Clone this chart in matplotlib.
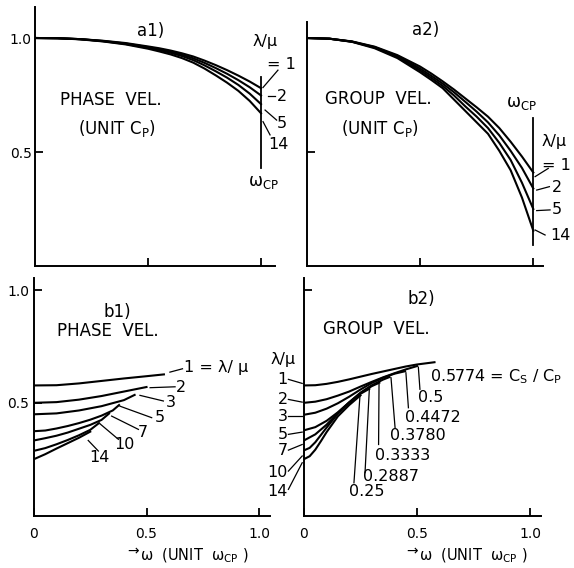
import matplotlib
matplotlib.use("Agg")
import matplotlib.pyplot as plt

plt.rcParams['font.family'] = ['DejaVu Sans']
plt.rcParams['mathtext.fontset'] = 'dejavusans'

# ---------------- data ----------------
# a1) phase velocity (unit C_P) vs omega (unit omega_CP)
A_X = [0, 0.1, 0.2, 0.3, 0.4, 0.5, 0.55, 0.6, 0.65, 0.7, 0.75, 0.8, 0.85, 0.9, 0.95, 1.0]
A1_R1 = [1.0, 0.999, 0.995, 0.988, 0.978, 0.963, 0.955, 0.945, 0.933, 0.919, 0.901, 0.881, 0.859, 0.835, 0.809, 0.78]
A1_R2 = [1.0, 0.999, 0.995, 0.987, 0.976, 0.960, 0.951, 0.940, 0.927, 0.911, 0.891, 0.868, 0.843, 0.815, 0.784, 0.748]
A1_R5 = [1.0, 0.999, 0.995, 0.986, 0.974, 0.957, 0.947, 0.935, 0.921, 0.903, 0.880, 0.854, 0.826, 0.794, 0.756, 0.71]
A1_R14 = [1.0, 0.999, 0.994, 0.985, 0.972, 0.953, 0.941, 0.928, 0.912, 0.892, 0.866, 0.836, 0.804, 0.768, 0.724, 0.67]
# a2) group velocity
A2_R1 = [1.0, 0.997, 0.985, 0.962, 0.925, 0.875, 0.844, 0.810, 0.774, 0.735, 0.696, 0.655, 0.605, 0.545, 0.48, 0.41]
A2_R2 = [1.0, 0.997, 0.984, 0.960, 0.921, 0.866, 0.834, 0.800, 0.762, 0.720, 0.677, 0.630, 0.573, 0.505, 0.43, 0.34]
A2_R5 = [1.0, 0.997, 0.984, 0.958, 0.917, 0.858, 0.825, 0.790, 0.748, 0.700, 0.655, 0.605, 0.540, 0.465, 0.365, 0.25]
A2_R14 = [1.0, 0.997, 0.983, 0.955, 0.912, 0.850, 0.816, 0.780, 0.730, 0.680, 0.630, 0.580, 0.505, 0.42, 0.30, 0.155]
A_LABELS = ["1", "2", "5", "14"]

# b1) phase velocity for lambda/mu = 1,2,3,5,7,10,14
B_LAMBDA = ["1", "2", "3", "5", "7", "10", "14"]
B_CS = ["0.5774", "0.5", "0.4472", "0.3780", "0.3333", "0.2887", "0.25"]
B1_X1 = [0, 0.1, 0.2, 0.3, 0.4, 0.5, 0.5774]
B1_Y1 = [0.577, 0.578, 0.586, 0.597, 0.608, 0.618, 0.626]
B1_X2 = [0, 0.1, 0.2, 0.3, 0.4, 0.5]
B1_Y2 = [0.5, 0.503, 0.514, 0.53, 0.55, 0.57]
B1_X3 = [0, 0.1, 0.2, 0.3, 0.4, 0.4472]
B1_Y3 = [0.449, 0.453, 0.466, 0.485, 0.512, 0.535]
B1_X5 = [0, 0.05, 0.1, 0.15, 0.2, 0.25, 0.3, 0.35, 0.378]
B1_Y5 = [0.374, 0.377, 0.386, 0.397, 0.41, 0.425, 0.443, 0.466, 0.49]
B1_X7 = [0, 0.05, 0.1, 0.15, 0.2, 0.25, 0.3, 0.3333]
B1_Y7 = [0.333, 0.343, 0.354, 0.368, 0.385, 0.402, 0.424, 0.452]
B1_X10 = [0, 0.05, 0.1, 0.15, 0.2, 0.25, 0.2887]
B1_Y10 = [0.287, 0.299, 0.316, 0.335, 0.356, 0.38, 0.41]
B1_X14 = [0, 0.05, 0.1, 0.15, 0.2, 0.25]
B1_Y14 = [0.25, 0.272, 0.297, 0.321, 0.345, 0.372]

# b2) group velocity
B2_X1 = [0, 0.05, 0.1, 0.15, 0.2, 0.25, 0.3, 0.35, 0.4, 0.45, 0.5, 0.5774]
B2_Y1 = [0.577, 0.578, 0.584, 0.593, 0.604, 0.616, 0.628, 0.639, 0.65, 0.661, 0.670, 0.68]
B2_X2 = [0, 0.05, 0.1, 0.15, 0.2, 0.25, 0.3, 0.35, 0.4, 0.45, 0.5]
B2_Y2 = [0.5, 0.505, 0.516, 0.532, 0.55, 0.572, 0.593, 0.613, 0.631, 0.648, 0.663]
B2_X3 = [0, 0.05, 0.1, 0.15, 0.2, 0.25, 0.3, 0.35, 0.4, 0.4472]
B2_Y3 = [0.447, 0.456, 0.474, 0.498, 0.527, 0.559, 0.588, 0.611, 0.629, 0.640]
B2_X5 = [0, 0.05, 0.1, 0.15, 0.2, 0.25, 0.3, 0.35, 0.378]
B2_Y5 = [0.378, 0.392, 0.42, 0.458, 0.502, 0.545, 0.578, 0.603, 0.614]
B2_X7 = [0, 0.05, 0.1, 0.15, 0.2, 0.25, 0.3, 0.3333]
B2_Y7 = [0.333, 0.36, 0.403, 0.455, 0.502, 0.543, 0.574, 0.589]
B2_X10 = [0, 0.025, 0.05, 0.1, 0.15, 0.2, 0.25, 0.2887]
B2_Y10 = [0.289, 0.30, 0.325, 0.39, 0.452, 0.5, 0.54, 0.562]
B2_X14 = [0, 0.025, 0.05, 0.075, 0.1, 0.15, 0.2, 0.25]
B2_Y14 = [0.25, 0.263, 0.292, 0.33, 0.37, 0.44, 0.49, 0.533]

# ---------------- figure ----------------
W, H = 574, 568
fig = plt.figure(figsize=(W / 100, H / 100), dpi=100)

LW = 1.5
LL = 0.9
FS = 12
FSN = 11.5
FST = 10


def make_axes(left_px, bottom_px, xs, ys, xmax, ymax):
    ax = fig.add_axes([left_px / W, (H - bottom_px) / H, xmax * xs / W, ymax * ys / H])
    ax.set_xlim(0, xmax)
    ax.set_ylim(0, ymax)
    for s in ("top", "right"):
        ax.spines[s].set_visible(False)
    for s in ("left", "bottom"):
        ax.spines[s].set_linewidth(1.4)
    ax.tick_params(direction="in", length=6, width=1.3, labelsize=FST)
    ax.patch.set_alpha(0)
    return ax


def leader(ax, x0, y0, x1, y1):
    ax.plot([x0, x1], [y0, y1], color="black", lw=LL, clip_on=False)


def xlabel(ax, x_left):
    ax.text(x_left, -0.177, "ω  (UNIT  ω$_\\mathrm{CP}$ )", fontsize=10.5,
            ha="left", va="center")
    ax.text(x_left - 0.004, -0.158, "→", fontsize=10, ha="right", va="center")


# a1
ax = make_axes(35, 266, 226, 228, 1.06, 1.137)
for ys in (A1_R1, A1_R2, A1_R5, A1_R14):
    ax.plot(A_X, ys, color="black", lw=LW)
ax.plot([1.0, 1.0], [0.43, 0.83], color="black", lw=1.3)
ax.set_xticks([0.5, 1.0])
ax.set_xticklabels([])
ax.set_yticks([0.5, 1.0])
ax.set_yticklabels(["0.5", "1.0"])
ax.tick_params(axis="y", pad=2.5)
ax.text(0.51, 1.03, "a1)", fontsize=FS, ha="center", va="center")
ax.text(0.11, 0.728, "PHASE  VEL.", fontsize=FS, ha="left", va="center")
ax.text(0.19, 0.605, "(UNIT C$_\\mathrm{P}$)", fontsize=FS, ha="left", va="center")
ax.text(1.02, 0.985, "λ/μ", fontsize=FSN, ha="center", va="center")
ax.text(1.027, 0.882, "= " + A_LABELS[0], fontsize=FSN, ha="left", va="center")
leader(ax, 1.009, 0.783, 1.075, 0.859)
leader(ax, 1.032, 0.745, 1.062, 0.745)
ax.text(1.092, 0.742, A_LABELS[1], fontsize=FSN, ha="center", va="center")
leader(ax, 1.018, 0.684, 1.069, 0.64)
ax.text(1.093, 0.625, A_LABELS[2], fontsize=FSN, ha="center", va="center")
leader(ax, 1.009, 0.633, 1.04, 0.575)
ax.text(1.077, 0.531, A_LABELS[3], fontsize=FSN, ha="center", va="center")
ax.text(1.009, 0.368, "ω$_\\mathrm{CP}$", fontsize=FS, ha="center", va="center")

# a2
ax = make_axes(306.7, 266, 226.6, 228, 1.045, 1.137)
ax.spines["left"].set_bounds(0, 1.07)
for ys in (A2_R1, A2_R2, A2_R5, A2_R14):
    ax.plot(A_X, ys, color="black", lw=LW)
ax.plot([1.0, 1.0], [0.09, 0.65], color="black", lw=1.3)
ax.set_xticks([0.5, 1.0])
ax.set_xticklabels([])
ax.set_yticks([0.5])
ax.set_yticklabels([])
ax.text(0.525, 1.035, "a2)", fontsize=FS, ha="center", va="center")
ax.text(0.081, 0.731, "GROUP  VEL.", fontsize=FS, ha="left", va="center")
ax.text(0.153, 0.604, "(UNIT C$_\\mathrm{P}$)", fontsize=FS, ha="left", va="center")
ax.text(0.949, 0.714, "ω$_\\mathrm{CP}$", fontsize=FS, ha="center", va="center")
ax.text(1.09, 0.545, "λ/μ", fontsize=FSN, ha="center", va="center")
ax.text(1.037, 0.439, "= " + A_LABELS[0], fontsize=FSN, ha="left", va="center")
leader(ax, 1.008, 0.392, 1.066, 0.428)
leader(ax, 1.015, 0.333, 1.071, 0.348)
ax.text(1.103, 0.345, A_LABELS[1], fontsize=FSN, ha="center", va="center")
leader(ax, 1.015, 0.243, 1.074, 0.246)
ax.text(1.103, 0.246, A_LABELS[2], fontsize=FSN, ha="center", va="center")
leader(ax, 1.008, 0.158, 1.052, 0.136)
ax.text(1.075, 0.132, A_LABELS[3], fontsize=FSN, ha="left", va="center")

# b1
ax = make_axes(34, 515.5, 225, 225.4, 1.05, 1.055)
for xs, ys in ((B1_X1, B1_Y1), (B1_X2, B1_Y2), (B1_X3, B1_Y3), (B1_X5, B1_Y5),
               (B1_X7, B1_Y7), (B1_X10, B1_Y10), (B1_X14, B1_Y14)):
    ax.plot(xs, ys, color="black", lw=LW)
ax.set_xticks([0, 0.5, 1.0])
ax.set_xticklabels(["0", "0.5", "1.0"])
ax.set_yticks([0.5, 1.0])
ax.set_yticklabels(["0.5", "1.0"])
ax.tick_params(axis="x", pad=8)
ax.tick_params(axis="y", pad=3.5)
ax.text(0.307, 0.902, "b1)", fontsize=FS, ha="left", va="center")
ax.text(0.104, 0.818, "PHASE  VEL.", fontsize=FS, ha="left", va="center")
leader(ax, 0.604, 0.636, 0.66, 0.651)
ax.text(0.665, 0.655, B_LAMBDA[0] + " = λ/ μ", fontsize=FSN, ha="left", va="center")
leader(ax, 0.516, 0.567, 0.627, 0.571)
ax.text(0.651, 0.568, B_LAMBDA[1], fontsize=FSN, ha="center", va="center")
leader(ax, 0.471, 0.533, 0.575, 0.508)
ax.text(0.608, 0.50, B_LAMBDA[2], fontsize=FSN, ha="center", va="center")
leader(ax, 0.382, 0.485, 0.523, 0.434)
ax.text(0.557, 0.434, B_LAMBDA[3], fontsize=FSN, ha="center", va="center")
leader(ax, 0.345, 0.441, 0.464, 0.382)
ax.text(0.483, 0.367, B_LAMBDA[4], fontsize=FSN, ha="center", va="center")
leader(ax, 0.293, 0.407, 0.375, 0.338)
ax.text(0.404, 0.315, B_LAMBDA[5], fontsize=FSN, ha="center", va="center")
leader(ax, 0.241, 0.333, 0.286, 0.286)
ax.text(0.293, 0.256, B_LAMBDA[6], fontsize=FSN, ha="center", va="center")
xlabel(ax, 0.47)

# b2
ax = make_axes(304, 515.5, 226, 225.4, 1.05, 1.055)
for xs, ys in ((B2_X1, B2_Y1), (B2_X2, B2_Y2), (B2_X3, B2_Y3), (B2_X5, B2_Y5),
               (B2_X7, B2_Y7), (B2_X10, B2_Y10), (B2_X14, B2_Y14)):
    ax.plot(xs, ys, color="black", lw=LW)
ax.set_xticks([0, 0.5, 1.0])
ax.set_xticklabels(["0", "0.5", "1.0"])
ax.set_yticks([1.0])
ax.set_yticklabels([])
ax.tick_params(axis="x", pad=8)
ax.text(0.46, 0.959, "b2)", fontsize=FS, ha="left", va="center")
ax.text(0.084, 0.826, "GROUP  VEL.", fontsize=FS, ha="left", va="center")
ax.text(-0.093, 0.693, "λ/μ", fontsize=FSN, ha="center", va="center")
left_y = [0.604, 0.515, 0.44, 0.36, 0.29, 0.19, 0.105]
left_lead = [(0.604, 0.586), (0.515, 0.503), (0.44, 0.44), (0.36, 0.37),
             (0.29, 0.315), (0.197, 0.264), (0.116, 0.234)]
for lab, yl, (ya, yb) in zip(B_LAMBDA, left_y, left_lead):
    ax.text(-0.072, yl, lab, fontsize=FSN, ha="right", va="center")
    leader(ax, -0.069, ya, -0.008, yb)
ax.text(0.558, 0.614, B_CS[0] + " = C$_\\mathrm{S}$ / C$_\\mathrm{P}$", fontsize=FSN,
        ha="left", va="center")
cs_leads = [(0.506, 0.658, 0.513, 0.56), (0.451, 0.633, 0.462, 0.478),
            (0.385, 0.611, 0.403, 0.389), (0.332, 0.582, 0.33, 0.315),
            (0.289, 0.559, 0.27, 0.19), (0.248, 0.537, 0.221, 0.145)]
cs_text = [(0.506, 0.522), (0.447, 0.433), (0.381, 0.357), (0.314, 0.268),
           (0.26, 0.175), (0.20, 0.105)]
for lab, (x0, y0, x1, y1), (tx, ty) in zip(B_CS[1:], cs_leads, cs_text):
    leader(ax, x0, y0, x1, y1)
    ax.text(tx, ty, lab, fontsize=FSN, ha="left", va="center")
xlabel(ax, 0.51)

fig.savefig("out.png", dpi=100, facecolor="white")
